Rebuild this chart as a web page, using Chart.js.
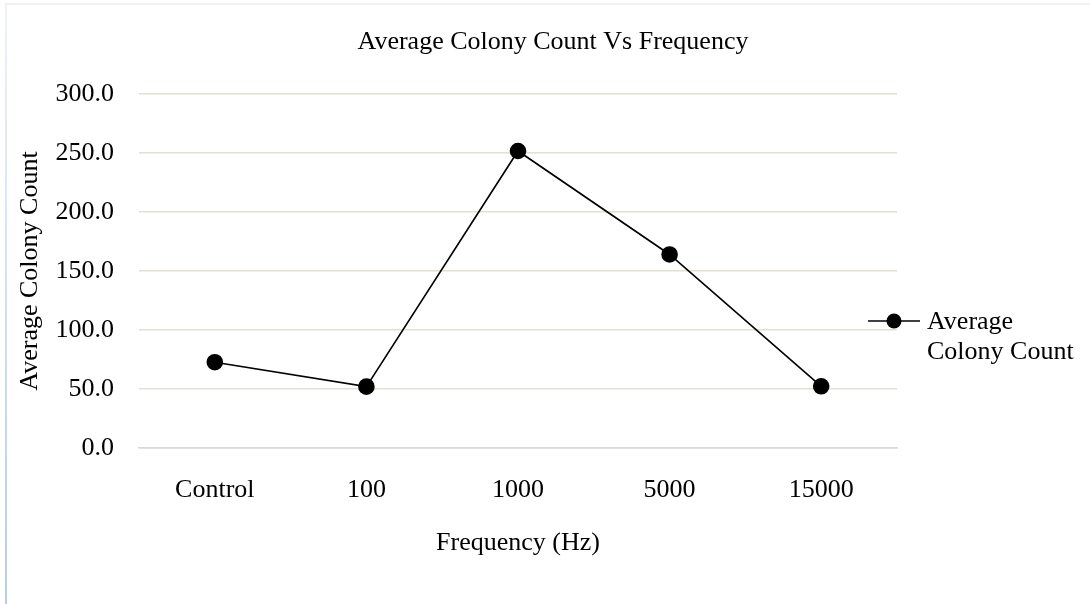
<!DOCTYPE html>
<html>
<head>
<meta charset="utf-8">
<script src="https://cdn.jsdelivr.net/npm/chart.js@4"></script>
<style>
  html, body { margin: 0; padding: 0; background: #fff; }
  #wrap { position: relative; width: 1090px; height: 604px; }
  #c { position: absolute; left: 0; top: 0; }
  .bt { position: absolute; left: 5px; top: 3px; width: 1085px; height: 2px; background: #eef2f8; }
  .bl { position: absolute; left: 5px; top: 3px; width: 2px; height: 601px; background: linear-gradient(#eef2f8, #b9cbe8); }
</style>
</head>
<body>
<div id="wrap">
  <canvas id="c" width="1090" height="604"></canvas>
  <div class="bt"></div>
  <div class="bl"></div>
</div>
<script>
const chartTitle = 'Average Colony Count Vs Frequency';
const xAxisTitle = 'Frequency (Hz)';
const yAxisTitle = 'Average Colony Count';
const categories = ['Control', '100', '1000', '5000', '15000'];
const seriesName = 'Average Colony Count';
const seriesValues = [72.7, 52.0, 251.7, 164.0, 52.3];
const yTicks = [0, 50, 100, 150, 200, 250, 300];

const FONT = "'Liberation Serif', 'Times New Roman', serif";

const legendPlugin = {
  id: 'wrappedLegend',
  afterDraw(chart) {
    const ctx = chart.ctx;
    const ds = chart.data.datasets[0];
    const lines = ['Average', 'Colony Count'];
    ctx.save();
    ctx.strokeStyle = ds.borderColor;
    ctx.lineWidth = ds.borderWidth;
    ctx.beginPath();
    ctx.moveTo(868, 321);
    ctx.lineTo(920, 321);
    ctx.stroke();
    ctx.fillStyle = ds.pointBackgroundColor;
    ctx.beginPath();
    ctx.arc(894, 321, ds.pointRadius, 0, Math.PI * 2);
    ctx.fill();
    ctx.fillStyle = '#000';
    ctx.font = '26px ' + FONT;
    ctx.textBaseline = 'middle';
    ctx.textAlign = 'left';
    lines.forEach((t, i) => ctx.fillText(t, 927, 322 + i * 30));
    ctx.restore();
  }
};

new Chart(document.getElementById('c'), {
  type: 'line',
  data: {
    labels: categories,
    datasets: [{
      label: seriesName,
      data: seriesValues,
      borderColor: '#000',
      backgroundColor: '#000',
      pointBackgroundColor: '#000',
      pointBorderColor: '#000',
      borderWidth: 1.6,
      pointRadius: 7.5,
      tension: 0
    }]
  },
  options: {
    responsive: false,
    animation: false,
    layout: { padding: { left: 16, right: 0, top: 0, bottom: 0 } },
    plugins: {
      legend: { display: false },
      tooltip: { enabled: false },
      title: {
        display: true,
        text: chartTitle,
        color: '#000',
        font: { family: FONT, size: 26, weight: 'normal' },
        padding: { top: 26.4, bottom: 36.4 }
      }
    },
    scales: {
      x: {
        offset: true,
        grid: { display: false, drawTicks: false },
        border: { display: true, color: '#d9d9d9', width: 1.5 },
        ticks: { color: '#000', font: { family: FONT, size: 26 }, padding: 27, maxRotation: 0 },
        title: {
          display: true, text: xAxisTitle, color: '#000',
          font: { family: FONT, size: 26 }, padding: { top: 0, bottom: 45 }
        },
        afterFit(s) { s.height = 156; }
      },
      y: {
        min: 0, max: 300,
        afterBuildTicks(s) { s.ticks = yTicks.map(v => ({ value: v })); },
        grid: {
          drawTicks: false,
          lineWidth: 1.5,
          color: c => c.tick && c.tick.value === 0 ? '#d9d9d9' : '#e4e0d0'
        },
        border: { display: false },
        ticks: {
          color: '#000', font: { family: FONT, size: 26 }, padding: 25,
          callback: v => Number(v).toFixed(1)
        },
        title: {
          display: true, text: yAxisTitle, color: '#000',
          font: { family: FONT, size: 26 }, padding: { top: -1.6, bottom: 0 }
        },
        afterFit(s) { s.width = 123; }
      },
      legendSpace: {
        type: 'linear',
        position: 'right',
        display: true,
        grid: { display: false, drawTicks: false },
        border: { display: false },
        ticks: { display: false },
        afterFit(s) { s.width = 193; }
      }
    }
  },
  plugins: [legendPlugin]
});
</script>
</body>
</html>
